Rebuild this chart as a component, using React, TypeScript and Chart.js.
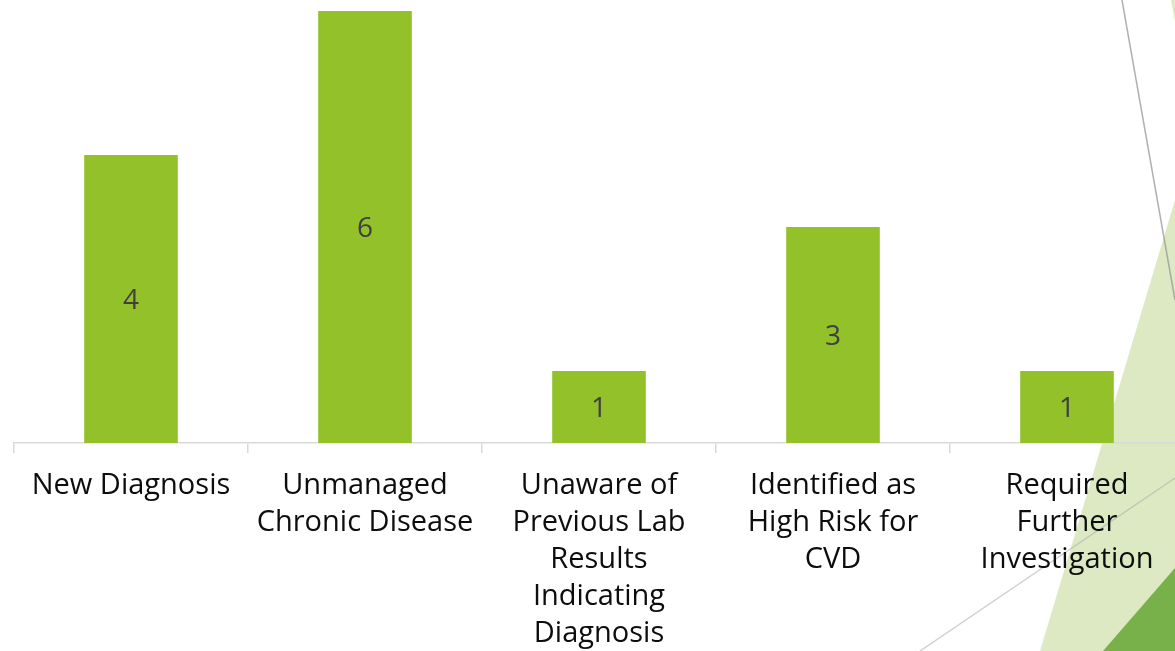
import React, { useEffect, useRef } from "react";
import { Chart, registerables } from "chart.js";

Chart.register(...registerables);

const categories: string[][] = [
  ["New Diagnosis"],
  ["Unmanaged", "Chronic Disease"],
  ["Unaware of", "Previous Lab", "Results", "Indicating", "Diagnosis"],
  ["Identified as", "High Risk for", "CVD"],
  ["Required", "Further", "Investigation"],
];
const counts: number[] = [4, 6, 1, 3, 1];

const BAR_GREEN = "#92c12a";
const FONT = "'Open Sans', 'DejaVu Sans', sans-serif";

// Slide backdrop: thin diagonal rules and green facets at the right edge.
const backdrop = {
  id: "backdrop",
  beforeDraw(chart: Chart) {
    const ctx = chart.ctx;
    ctx.save();
    ctx.fillStyle = "#ffffff";
    ctx.fillRect(0, 0, chart.width, chart.height);

    ctx.fillStyle = "#dce9c2";
    ctx.beginPath();
    ctx.moveTo(1175, 200);
    ctx.lineTo(1040, 651);
    ctx.lineTo(1175, 651);
    ctx.closePath();
    ctx.fill();

    ctx.beginPath();
    ctx.moveTo(1171, 0);
    ctx.lineTo(1175, 0);
    ctx.lineTo(1175, 22);
    ctx.closePath();
    ctx.fill();

    ctx.fillStyle = "#78b14a";
    ctx.beginPath();
    ctx.moveTo(1175, 568);
    ctx.lineTo(1103, 651);
    ctx.lineTo(1175, 651);
    ctx.closePath();
    ctx.fill();

    ctx.lineWidth = 1.5;
    ctx.strokeStyle = "rgba(150,150,150,0.75)";
    ctx.beginPath();
    ctx.moveTo(1122, 0);
    ctx.lineTo(1175, 300);
    ctx.stroke();

    ctx.strokeStyle = "rgba(170,170,170,0.55)";
    ctx.beginPath();
    ctx.moveTo(920, 651);
    ctx.lineTo(1175, 478);
    ctx.stroke();
    ctx.restore();
  },
};

// Count written at the middle of each bar.
const barValues = {
  id: "barValues",
  afterDatasetsDraw(chart: Chart) {
    const ctx = chart.ctx;
    const meta = chart.getDatasetMeta(0);
    ctx.save();
    ctx.fillStyle = "#404040";
    ctx.font = `28px ${FONT}`;
    ctx.textAlign = "center";
    ctx.textBaseline = "middle";
    meta.data.forEach((el: any, i: number) => {
      const { x, y, base } = el.getProps(["x", "y", "base"], true);
      ctx.fillText(String(counts[i]), x, (y + base) / 2 + 2);
    });
    ctx.restore();
  },
};

export default function App() {
  const ref = useRef<HTMLCanvasElement>(null);

  useEffect(() => {
    if (!ref.current) return;
    const chart = new Chart(ref.current, {
      type: "bar",
      data: {
        labels: categories,
        datasets: [
          {
            data: counts,
            backgroundColor: BAR_GREEN,
            barPercentage: 0.4,
            categoryPercentage: 1,
          },
        ],
      },
      options: {
        responsive: false,
        animation: false,
        layout: { padding: { left: 14, right: 16, top: 11, bottom: 0 } },
        plugins: {
          legend: { display: false },
          tooltip: { enabled: false },
        },
        scales: {
          y: {
            display: false,
            min: 0,
            max: 6,
          },
          x: {
            afterFit: (scale: any) => {
              scale.height = 208;
            },
            border: { color: "#d9d9d9", width: 1.5 },
            grid: {
              drawOnChartArea: false,
              drawTicks: true,
              tickLength: 10,
              color: "#d9d9d9",
              lineWidth: 1.5,
            },
            ticks: {
              color: "#0d0d0d",
              padding: 14,
              maxRotation: 0,
              autoSkip: false,
              font: { family: FONT, size: 29, lineHeight: 1.276 },
            },
          },
        },
      },
      plugins: [backdrop, barValues],
    });
    return () => chart.destroy();
  }, []);

  return (
    <div
      style={{
        position: "absolute",
        left: 0,
        top: 0,
        width: 1175,
        height: 651,
        overflow: "hidden",
        background: "#ffffff",
      }}
    >
      <canvas ref={ref} width={1200} height={651} style={{ display: "block" }} />
    </div>
  );
}
